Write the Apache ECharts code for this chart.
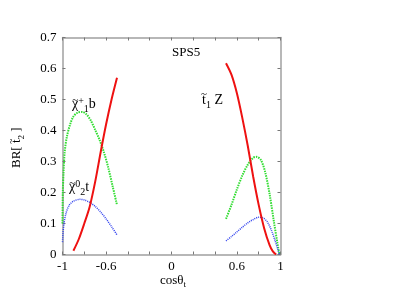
<!DOCTYPE html>
<html><head><meta charset="utf-8">
<script src="https://cdn.jsdelivr.net/npm/echarts@6/dist/echarts.min.js"></script>
<style>html,body{margin:0;padding:0;background:#fff}#c{width:417px;height:292px}</style>
</head><body><div id="c"></div>
<script>
// Data
const xTickLabels = [-1, -0.6, 0, 0.6, 1];
const redLeftX   = [-0.9, -0.85, -0.8, -0.75, -0.7, -0.65, -0.6, -0.55, -0.5];
const redLeftY   = [0.012, 0.05, 0.10, 0.155, 0.235, 0.33, 0.42, 0.50, 0.57];
const redRightX  = [0.5, 0.55, 0.6, 0.65, 0.7, 0.75, 0.8, 0.85, 0.9, 0.93, 0.96];
const redRightY  = [0.617, 0.58, 0.52, 0.44, 0.35, 0.25, 0.16, 0.085, 0.03, 0.01, 0.0];
const greenLeftX = [-1, -0.997, -0.99, -0.98, -0.96, -0.93, -0.9, -0.86, -0.82, -0.78, -0.74, -0.7, -0.66, -0.62, -0.58, -0.54, -0.5];
const greenLeftY = [0.10, 0.20, 0.27, 0.33, 0.38, 0.42, 0.445, 0.458, 0.46, 0.452, 0.432, 0.402, 0.37, 0.33, 0.28, 0.22, 0.16];
const greenRightX = [0.5, 0.55, 0.6, 0.65, 0.7, 0.75, 0.78, 0.82, 0.86, 0.9, 0.94, 0.97, 0.99];
const greenRightY = [0.115, 0.16, 0.21, 0.255, 0.29, 0.312, 0.315, 0.305, 0.265, 0.195, 0.105, 0.04, 0.0];
const blueLeftX  = [-1, -0.99, -0.97, -0.94, -0.9, -0.84, -0.8, -0.75, -0.7, -0.65, -0.6, -0.55, -0.5];
const blueLeftY  = [0.04, 0.09, 0.13, 0.158, 0.172, 0.178, 0.176, 0.168, 0.155, 0.137, 0.115, 0.09, 0.063];
const blueRightX = [0.5, 0.55, 0.6, 0.65, 0.7, 0.75, 0.8, 0.84, 0.88, 0.92, 0.95, 0.98, 0.99];
const blueRightY = [0.044, 0.058, 0.073, 0.088, 0.102, 0.113, 0.12, 0.118, 0.105, 0.075, 0.045, 0.012, 0.0];

const zip = (xs, ys) => xs.map((x, i) => [x, ys[i]]);
const F = 'Liberation Serif';
const axisColor = '#a0a0a0';

function line(xs, ys, color, width, type) {
  return { type: 'line', data: zip(xs, ys), showSymbol: false, smooth: 0.3,
    lineStyle: { color, width, type }, xAxisIndex: 0, yAxisIndex: 0, z: 3 };
}

const mctx = document.createElement('canvas').getContext('2d');
function tw(t, size) { mctx.font = size + 'px "' + F + '"'; return mctx.measureText(t).width; }
// parts: {t, size, dy, tilde}
function label(x, y, parts, rotation) {
  const children = [];
  let cx = 0;
  parts.forEach(p => {
    const w = tw(p.t, p.size);
    children.push({ type: 'text', x: cx, y: p.dy || 0,
      style: { text: p.t, font: p.size + 'px "' + F + '"', fill: '#000', textVerticalAlign: 'bottom', textAlign: 'left' } });
    if (p.tilde) {
      children.push({ type: 'text', x: cx + w / 2, y: (p.dy || 0) - p.size * p.tilde,
        style: { text: '~', font: Math.round(p.size * 0.75) + 'px "' + F + '"', fill: '#000', textVerticalAlign: 'bottom', textAlign: 'center' } });
    }
    cx += w + (p.gap || 0);
  });
  return { type: 'group', x, y, rotation: rotation || 0, children };
}

const chart = echarts.init(document.getElementById('c'), null, { renderer: 'canvas' });
const xBase = { type: 'value', min: -1, max: 1, interval: 0.2,
  axisLine: { show: true, onZero: false, lineStyle: { color: axisColor, width: 1.5 } },
  axisTick: { show: true, inside: true, length: 3, lineStyle: { color: '#777' } },
  splitLine: { show: false } };
const yBase = { type: 'value', min: 0, max: 0.7, interval: 0.1,
  axisLine: { show: true, onZero: false, lineStyle: { color: axisColor, width: 1.5 } },
  axisTick: { show: true, inside: true, length: 3, lineStyle: { color: '#777' } },
  splitLine: { show: false } };

chart.setOption({
  animation: false,
  grid: { left: 62.5, right: 136.5, top: 37.5, bottom: 37.5, containLabel: false, outerBoundsMode: 'none' },
  xAxis: [
    Object.assign({}, xBase, { position: 'bottom',
      axisLabel: { show: true, fontFamily: F, fontSize: 13, color: '#000', margin: 6,
        formatter: v => { const r = Math.round(v * 10) / 10; return xTickLabels.some(t => Math.abs(t - r) < 1e-6) ? String(r) : ''; } } }),
    Object.assign({}, xBase, { position: 'top', axisLabel: { show: false } })
  ],
  yAxis: [
    Object.assign({}, yBase, { position: 'left',
      axisLabel: { show: true, fontFamily: F, fontSize: 13, color: '#000', margin: 6 } }),
    Object.assign({}, yBase, { position: 'right', axisLabel: { show: false } })
  ],
  series: [
    line(greenLeftX, greenLeftY, '#33dd33', 2, [1.5, 1]),
    line(greenRightX, greenRightY, '#33dd33', 2, [1.5, 1]),
    line(blueLeftX, blueLeftY, '#3344ee', 1.5, [1, 1]),
    line(blueRightX, blueRightY, '#3344ee', 1.5, [1, 1]),
    line(redLeftX, redLeftY, '#ee1111', 2, 'solid'),
    line(redRightX, redRightY, '#ee1111', 2, 'solid')
  ],
  graphic: [
    label(172, 59, [{ t: 'SPS5', size: 13 }]),
    label(72, 111, [{ t: 'χ', size: 14, tilde: 0.38 }, { t: '+', size: 10, dy: -5 }, { t: '1', size: 10, dy: 3 }, { t: 'b', size: 14 }]),
    label(69, 194, [{ t: 'χ', size: 14, tilde: 0.38 }, { t: '0', size: 10, dy: -5 }, { t: '2', size: 10, dy: 3 }, { t: 't', size: 14 }]),
    label(202, 107, [{ t: 't', size: 14, tilde: 0.5 }, { t: '1', size: 10, dy: 3 }, { t: ' Z', size: 14 }]),
    label(160, 287, [{ t: 'cosθ', size: 13 }, { t: 't', size: 9, dy: 2 }]),
    label(23, 168, [{ t: 'BR[ ', size: 13 }, { t: 't', size: 13, tilde: 0.5 }, { t: '2', size: 9, dy: 3 }, { t: ' ]', size: 13 }], Math.PI / 2)
  ]
});
</script></body></html>
